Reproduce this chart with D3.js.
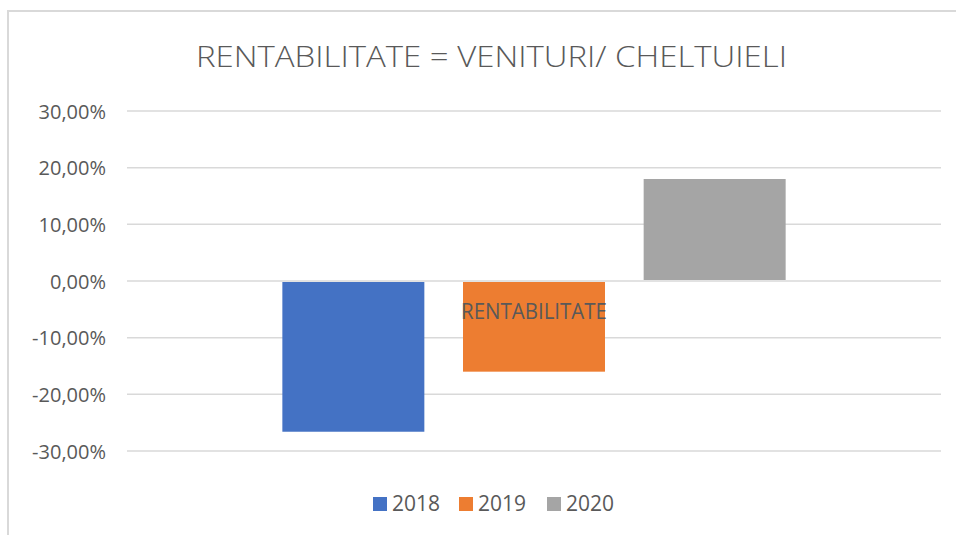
<!DOCTYPE html>
<html>
<head>
<meta charset="utf-8">
<script src="https://cdn.jsdelivr.net/npm/d3@7"></script>
<style>
  body { margin: 0; background: #fff; }
  text { font-family: "Open Sans", sans-serif; fill: #595959; }
</style>
</head>
<body>
<div id="chart"></div>
<script>
(function(){

    var categories = ["RENTABILITATE"];
    var seriesNames = ["2018", "2019", "2020"];
    var seriesValues = [-0.266, -0.16, 0.18];
    var yTicks = [-0.3, -0.2, -0.1, 0, 0.1, 0.2, 0.3];
    var colors = ["#4472C4", "#ED7D31", "#A5A5A5"];

    var width = 956, height = 535;
    var plotLeft = 127, plotRight = 941, plotTop = 111, plotBottom = 451;

    // comma decimals, plain hyphen for negatives
    var fmt = d3.formatLocale({decimal: ",", thousands: ".", grouping: [3], currency: ["", ""], minus: "-"}).format(".2%");

    var svg = d3.select("#chart")
        .append("svg")
        .attr("width", width)
        .attr("height", height);

    // chart border (only top and left show in the crop)
    svg.append("path")
        .attr("d", "M8,535 L8,11 L956,11")
        .attr("fill", "none")
        .attr("stroke", "#D9D9D9")
        .attr("stroke-width", 2);

    svg.append("text")
        .attr("x", 491.5)
        .attr("y", 67)
        .attr("text-anchor", "middle")
        .attr("font-size", 30)
        .attr("font-weight", 300)
        .attr("textLength", 591)
        .attr("lengthAdjust", "spacingAndGlyphs")
        .text("RENTABILITATE = VENITURI/ CHELTUIELI");

    var y = d3.scaleLinear().domain([-0.3, 0.3]).range([plotBottom, plotTop]);
    var x0 = d3.scaleBand().domain(categories).range([plotLeft, plotRight]);
    var x1 = d3.scaleBand().domain(seriesNames).range([0, x0.bandwidth()])
        .paddingInner(0.214).paddingOuter(0.86);

    // gridlines
    svg.append("g")
        .selectAll("line")
        .data(yTicks)
        .enter()
        .append("line")
        .attr("x1", plotLeft)
        .attr("x2", plotRight)
        .attr("y1", function(d) { return y(d); })
        .attr("y2", function(d) { return y(d); })
        .attr("stroke", "#D9D9D9")
        .attr("stroke-width", 1.5);

    // y labels
    var yAxis = svg.append("g")
        .attr("transform", "translate(" + plotLeft + ",0)")
        .call(d3.axisLeft(y).tickValues(yTicks).tickFormat(fmt).tickSize(0).tickPadding(21));
    yAxis.select(".domain").remove();
    yAxis.selectAll("text")
        .attr("font-size", 20)
        .attr("dy", "0.36em")
        .style("font-family", "'Open Sans', sans-serif")
        .attr("fill", "#595959");

    // bars
    var bars = seriesNames.map(function(s, i) {
        return {cat: categories[0], name: s, value: seriesValues[i], color: colors[i]};
    });
    svg.append("g")
        .selectAll("rect")
        .data(bars)
        .enter()
        .append("rect")
        .attr("x", function(d) { return x0(d.cat) + x1(d.name); })
        .attr("y", function(d) { return y(Math.max(0, d.value)) + (d.value < 0 ? 1 : 0); })
        .attr("width", x1.bandwidth())
        .attr("height", function(d) { return Math.abs(y(d.value) - y(0)) - 1; })
        .attr("fill", function(d) { return d.color; });

    // category label sits over the bars
    var xAxis = svg.append("g")
        .attr("transform", "translate(0," + y(0) + ")")
        .call(d3.axisBottom(x0).tickSize(0));
    xAxis.select(".domain").remove();
    xAxis.selectAll("text")
        .attr("y", 38)
        .attr("dy", "0")
        .attr("font-size", 21)
        .attr("textLength", 146)
        .attr("lengthAdjust", "spacingAndGlyphs")
        .style("font-family", "'Open Sans', sans-serif")
        .attr("fill", "#595959");

    // legend
    var legendX = [373, 459, 547];
    var legend = svg.append("g")
        .selectAll("g")
        .data(bars)
        .enter()
        .append("g")
        .attr("transform", function(d, i) { return "translate(" + legendX[i] + ",497)"; });
    legend.append("rect")
        .attr("width", 14)
        .attr("height", 14)
        .attr("fill", function(d) { return d.color; });
    legend.append("text")
        .attr("x", 19)
        .attr("y", 14)
        .attr("font-size", 21)
        .text(function(d) { return d.name; });

})();
</script>
</body>
</html>
